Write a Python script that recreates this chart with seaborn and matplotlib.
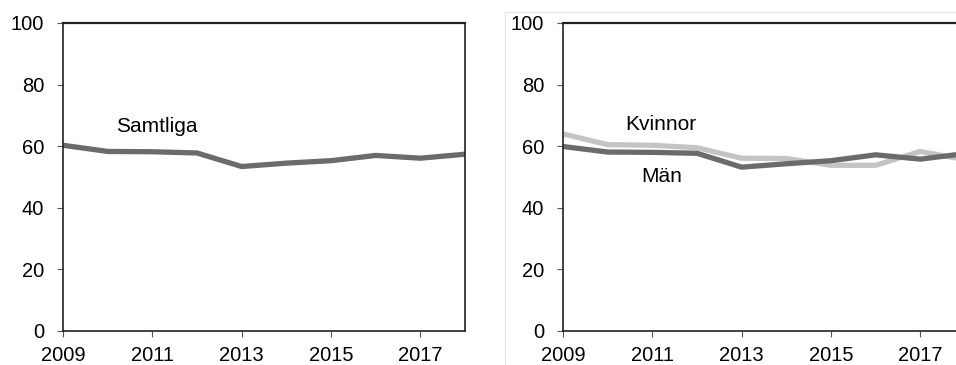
import seaborn as sns
import matplotlib.pyplot as plt
import pandas as pd
from matplotlib.patches import Rectangle

years = [2009, 2010, 2011, 2012, 2013, 2014, 2015, 2016, 2017, 2018]
samtliga = [60.3, 58.3, 58.2, 57.8, 53.4, 54.5, 55.3, 57.0, 56.1, 57.4]
kvinnor = [64.0, 60.5, 60.3, 59.5, 56.1, 56.0, 53.8, 53.8, 58.3, 55.6]
man = [59.9, 58.1, 58.0, 57.7, 53.2, 54.3, 55.3, 57.2, 55.8, 57.6]
x_ticks = [2009, 2011, 2013, 2015, 2017]
y_ticks = [0, 20, 40, 60, 80, 100]

dark = "#6b6b6b"
light = "#c4c4c4"

sns.set_style("white")
plt.rcParams['font.family'] = ['Liberation Sans', 'DejaVu Sans']
plt.rcParams['text.color'] = 'black'

fig = plt.figure(figsize=(9.56, 3.65), dpi=100)
W, H = 956, 365

# faint frame around right chart
fig.patches.append(Rectangle((505 / W, 0), 1, 1 - 12 / H, transform=fig.transFigure,
                             fill=False, edgecolor="#e2e2e2", linewidth=0.8))

ax1 = fig.add_axes([63 / W, 34 / H, 402 / W, 308 / H])
ax2 = fig.add_axes([563 / W, 34 / H, 402 / W, 308 / H])

df1 = pd.DataFrame({"year": years, "value": samtliga})
sns.lineplot(data=df1, x="year", y="value", ax=ax1, color=dark, linewidth=3.8)

df2 = pd.DataFrame({"year": years * 2, "value": kvinnor + man,
                    "grupp": ["Kvinnor"] * len(years) + ["Män"] * len(years)})
sns.lineplot(data=df2, x="year", y="value", hue="grupp", ax=ax2,
             palette={"Kvinnor": light, "Män": dark}, linewidth=3.8, legend=False)

ax1.text(2011.1, 66.5, "Samtliga", fontsize=15, ha="center", va="center", color="black")
ax2.text(2011.2, 67.0, "Kvinnor", fontsize=15, ha="center", va="center", color="black")
ax2.text(2011.2, 50.0, "Män", fontsize=15, ha="center", va="center", color="black")

for ax in (ax1, ax2):
    ax.set_xlim(2009, 2018)
    ax.set_ylim(0, 100)
    ax.set_xticks(x_ticks)
    ax.set_yticks(y_ticks)
    ax.set_xlabel("")
    ax.set_ylabel("")
    ax.tick_params(axis="both", labelsize=14.5, direction="out", length=4.5,
                   width=0.8, color="#555555", labelcolor="black",
                   bottom=True, left=True)
    ax.tick_params(axis="y", pad=9)
    ax.tick_params(axis="x", pad=6)
    for s in ax.spines.values():
        s.set_visible(True)
        s.set_color("#222222")
        s.set_linewidth(1.2)
    ax.spines["top"].set_linewidth(1.6)

plt.savefig("out.png", dpi=100)
